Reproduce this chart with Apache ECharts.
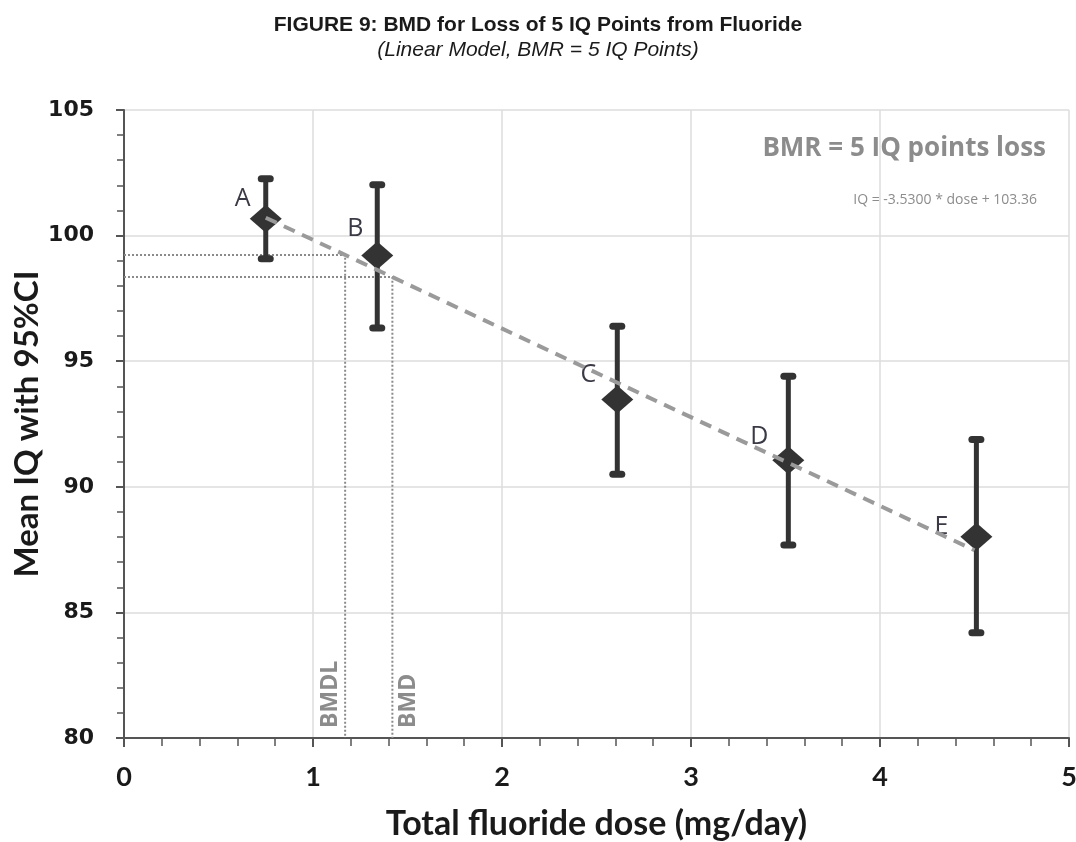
<!DOCTYPE html>
<html>
<head>
<meta charset="utf-8">
<script src="https://cdn.jsdelivr.net/npm/echarts@6/dist/echarts.min.js"></script>
<style>
html,body{margin:0;padding:0;background:#fff;}
#chart{width:1076px;height:842px;}
</style>
</head>
<body>
<div id="chart"></div>
<script>
// ---- data ----
const groups = ['A', 'B', 'C', 'D', 'E'];
const doses = [0.75, 1.34, 2.61, 3.515, 4.51];
const meanIQ = [100.67, 99.21, 93.48, 91.06, 88.01];
const ciLow = [99.08, 96.32, 90.50, 87.68, 84.19];
const ciHigh = [102.26, 102.02, 96.39, 94.40, 91.88];
const slope = -3.53;
const intercept = 103.36;
const fitRange = [0.75, 4.5];
const bmdl = 1.17;
const bmd = 1.42;
const xTicks = [0, 1, 2, 3, 4, 5];
const yTicks = [80, 85, 90, 95, 100, 105];

// label offsets (layout)
const labelOffsets = [[-23, -20], [-22, -27], [-29, -25], [-29, -23], [-35, -10]];

const chart = echarts.init(document.getElementById('chart'));

const fitLine = fitRange.map(x => [x, intercept + slope * x]);
const bmdlY = intercept + slope * bmdl;
const bmdY = intercept + slope * bmd;

const dotted = {color: '#8a8a8a', width: 2, type: [2, 2]};

const option = {
  animation: false,
  backgroundColor: '#fff',
  title: {
    text: 'FIGURE 9: BMD for Loss of 5 IQ Points from Fluoride',
    subtext: '(Linear Model, BMR = 5 IQ Points)',
    left: 'center',
    top: 9,
    itemGap: 2,
    textStyle: {fontFamily: 'Liberation Sans', fontWeight: 'bold', fontSize: 21, color: '#1a1a1a', lineHeight: 23},
    subtextStyle: {fontFamily: 'Liberation Sans', fontStyle: 'italic', fontSize: 21, color: '#1a1a1a', lineHeight: 23}
  },
  grid: {left: 124, right: 7, top: 110, bottom: 104, outerBoundsMode: 'none', containLabel: false},
  xAxis: {
    type: 'value', min: xTicks[0], max: xTicks[xTicks.length - 1], interval: 1,
    name: 'Total fluoride dose (mg/day)', nameLocation: 'middle', nameGap: 69,
    nameTextStyle: {fontFamily: 'Lato', fontWeight: 'bold', fontSize: 34, color: '#1a1a1a'},
    axisLine: {lineStyle: {color: '#555', width: 2}},
    axisTick: {show: true, length: 9, lineStyle: {color: '#555', width: 2}},
    minorTick: {show: true, splitNumber: 5, length: 8, lineStyle: {color: '#555', width: 1.5}},
    axisLabel: {fontFamily: 'Lato', fontWeight: 'bold', fontSize: 27, color: '#1a1a1a', margin: 26},
    splitLine: {show: true, lineStyle: {color: '#dcdcdc', width: 1.5}}
  },
  yAxis: {
    type: 'value', min: yTicks[0], max: yTicks[yTicks.length - 1], interval: 5,
    name: 'Mean IQ with 95%CI', nameLocation: 'middle', nameGap: 80, nameRotate: 90,
    nameMoveOverlap: false,
    nameTextStyle: {fontFamily: 'Lato', fontWeight: 'bold', fontSize: 33, color: '#1a1a1a'},
    axisLine: {show: true, lineStyle: {color: '#555', width: 2}},
    axisTick: {show: true, length: 8, lineStyle: {color: '#555', width: 2}},
    minorTick: {show: true, splitNumber: 5, length: 7, lineStyle: {color: '#555', width: 1.5}},
    axisLabel: {fontFamily: 'DejaVu Sans', fontWeight: 'bold', fontSize: 22, color: '#1a1a1a', margin: 30},
    splitLine: {show: true, lineStyle: {color: '#dcdcdc', width: 1.5}}
  },
  series: [
    {
      type: 'line', data: [[0, bmdlY], [bmdl, bmdlY], [bmdl, yTicks[0]]],
      symbol: 'none', lineStyle: dotted, z: 2, silent: true
    },
    {
      type: 'line', data: [[0, bmdY], [bmd, bmdY], [bmd, yTicks[0]]],
      symbol: 'none', lineStyle: dotted, z: 2, silent: true
    },
    {
      type: 'custom', z: 3,
      data: doses.map((d, i) => [d, ciLow[i], ciHigh[i]]),
      renderItem: function (params, api) {
        const x = api.value(0);
        const lo = api.coord([x, api.value(1)]);
        const hi = api.coord([x, api.value(2)]);
        const capW = 16, capH = 7;
        return {
          type: 'group',
          children: [
            {type: 'line', shape: {x1: lo[0], y1: lo[1], x2: hi[0], y2: hi[1]},
             style: {stroke: '#333', lineWidth: 5}},
            {type: 'rect', shape: {x: hi[0] - capW / 2, y: hi[1] - capH / 2, width: capW, height: capH, r: 3.5},
             style: {fill: '#333'}},
            {type: 'rect', shape: {x: lo[0] - capW / 2, y: lo[1] - capH / 2, width: capW, height: capH, r: 3.5},
             style: {fill: '#333'}}
          ]
        };
      }
    },
    {
      type: 'scatter', z: 5,
      symbol: 'diamond', symbolSize: [32, 28],
      itemStyle: {color: '#333', opacity: 1},
      data: doses.map((d, i) => ({
        value: [d, meanIQ[i]],
        label: {
          show: true, formatter: groups[i], position: 'inside', offset: labelOffsets[i],
          fontFamily: 'Open Sans', fontSize: 25, color: '#3a3a46'
        }
      }))
    },
    {
      type: 'line', z: 6, data: fitLine, symbol: 'none',
      lineStyle: {color: '#9a9a9a', width: 4, type: [12, 8]}
    }
  ]
};

chart.setOption(option);

// place rotated BMD/BMDL labels relative to data coordinates
function placeLabels() {
  const pL = chart.convertToPixel({gridIndex: 0}, [bmdl, yTicks[0]]);
  const pD = chart.convertToPixel({gridIndex: 0}, [bmd, yTicks[0]]);
  chart.setOption({
    graphic: [
      {type: 'text', right: 30, top: 136,
       style: {text: 'BMR = 5 IQ points loss', font: 'bold 26px "Open Sans"', fill: '#8c8c8c'}},
      {type: 'text', right: 39, top: 193,
       style: {text: 'IQ = -3.5300 * dose + 103.36', font: '14px "Open Sans"', fill: '#8c8c8c'}},
      {type: 'text', x: pL[0] - 15, y: pL[1] - 10, rotation: Math.PI / 2,
       style: {text: 'BMDL', font: 'bold 23px "Open Sans"', fill: '#8c8c8c', align: 'left', verticalAlign: 'middle'}},
      {type: 'text', x: pD[0] + 16, y: pD[1] - 10, rotation: Math.PI / 2,
       style: {text: 'BMD', font: 'bold 23px "Open Sans"', fill: '#8c8c8c', align: 'left', verticalAlign: 'middle'}}
    ]
  });
}
placeLabels();
</script>
</body>
</html>
